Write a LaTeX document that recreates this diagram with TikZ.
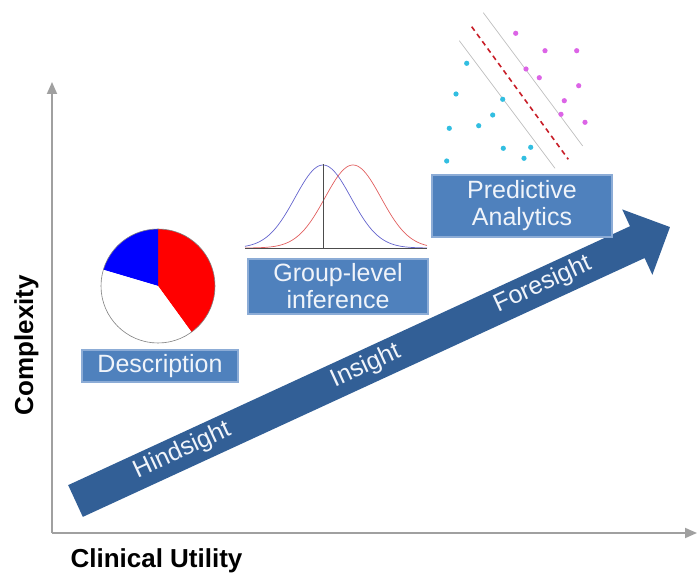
\documentclass[tikz,border=0pt]{standalone}
\usepackage{fontspec}
\setmainfont{Liberation Sans}
\usetikzlibrary{arrows.meta}

\definecolor{axisgray}{RGB}{160,160,160}
\definecolor{arrowblue}{RGB}{50,95,150}
\definecolor{boxblue}{RGB}{79,129,189}
\definecolor{boxedge}{RGB}{140,172,214}
\definecolor{boxtext}{RGB}{240,244,250}
\definecolor{magentadot}{RGB}{220,100,230}
\definecolor{cyandot}{RGB}{50,190,225}
\definecolor{svmred}{RGB}{200,30,40}
\definecolor{bluecurve}{RGB}{100,100,205}
\definecolor{redcurve}{RGB}{225,95,95}

\begin{document}
\begin{tikzpicture}[x=1pt,y=1pt,
  labelbox/.style={fill=boxblue, draw=boxedge, line width=1.2pt, text=boxtext,
    align=center, inner sep=0pt, font=\fontsize{25}{27}\selectfont},
  axislabel/.style={font=\fontsize{26}{28}\selectfont\bfseries},
  arrowtext/.style={text=boxtext, font=\fontsize{25}{27}\selectfont, transform shape},
  axisline/.style={axisgray, line width=1.8pt, -{Triangle[length=12pt,width=10pt]}}]
\useasboundingbox (0,0) rectangle (697,576);

% axes
\draw[axisline] (52,43) -- (52,494);
\draw[axisline] (52,43) -- (697,43);
\node[axislabel, anchor=base west] (xlab) at (67,8) {Clinical Utility};
\node[axislabel, rotate=90, anchor=base] (ylab) at (33,231) {Complexity};

% big arrow
\begin{scope}[shift={(75.5,75)}, rotate=24.74]
\fill[arrowblue] (0,-17.5) -- (618.6,-17.5) -- (618.6,-36) -- (654.6,0)
  -- (618.6,36) -- (618.6,17.5) -- (0,17.5) -- cycle;
\node[arrowtext] (hind) at (118,1) {Hindsight};
\node[arrowtext] (ins) at (320,1) {Insight};
\node[arrowtext] (fore) at (515,1) {Foresight};
\end{scope}

% pie chart
\fill[red] (158,290) -- ++(90:57) arc[start angle=90, end angle=-54, radius=57] -- cycle;
\fill[blue] (158,290) -- ++(90:57) arc[start angle=90, end angle=163.5, radius=57] -- cycle;
\fill[white] (158,290) -- ++(163.5:57) arc[start angle=163.5, end angle=306, radius=57] -- cycle;
\draw[gray, line width=0.6pt] (158,290) circle[radius=57];
\node[labelbox, minimum width=156pt, minimum height=32pt] (desc) at (160,210) {Description};

% normal curves
\draw[bluecurve, line width=0.7pt, domain=245:427, samples=90] plot (\x,{328+83*exp(-((\x-323)/28)^2/2)});
\draw[redcurve, line width=0.7pt, domain=245:427, samples=90] plot (\x,{328+83*exp(-((\x-353)/28)^2/2)});
\draw[black!70, line width=0.8pt] (245,328) -- (427,328);
\draw[black!70, line width=0.8pt] (323,328) -- (323,412);
\node[labelbox, minimum width=180pt, minimum height=55pt] (group) at (338,289.5) {Group-level\\inference};

% svm scatter
\draw[black!25, line width=0.7pt] (483.3,563.3) -- (582.7,430);
\draw[black!25, line width=0.7pt] (459.3,535.3) -- (555,407.7);
\draw[svmred, line width=1.6pt, dash pattern=on 5pt off 4pt] (471.7,549.3) -- (568.3,416.7);
\foreach \px/\py in {515.7/542.7, 545/525.3, 576.7/525.3, 526/507, 539.3/498.3,
  578.7/490.3, 564.3/475.3, 561/461.7, 585/453.7}
  \fill[magentadot] (\px,\py) circle[radius=2.6];
\foreach \px/\py in {466.7/512.7, 456/482, 502.7/476.7, 492.7/461, 449.3/447.7,
  478.7/450.3, 503.3/427.7, 530.7/428.7, 524/417.7, 446.7/415}
  \fill[cyandot] (\px,\py) circle[radius=2.6];
\node[labelbox, minimum width=180pt, minimum height=62pt] (pred) at (522,370) {Predictive\\Analytics};
\end{tikzpicture}
\end{document}
